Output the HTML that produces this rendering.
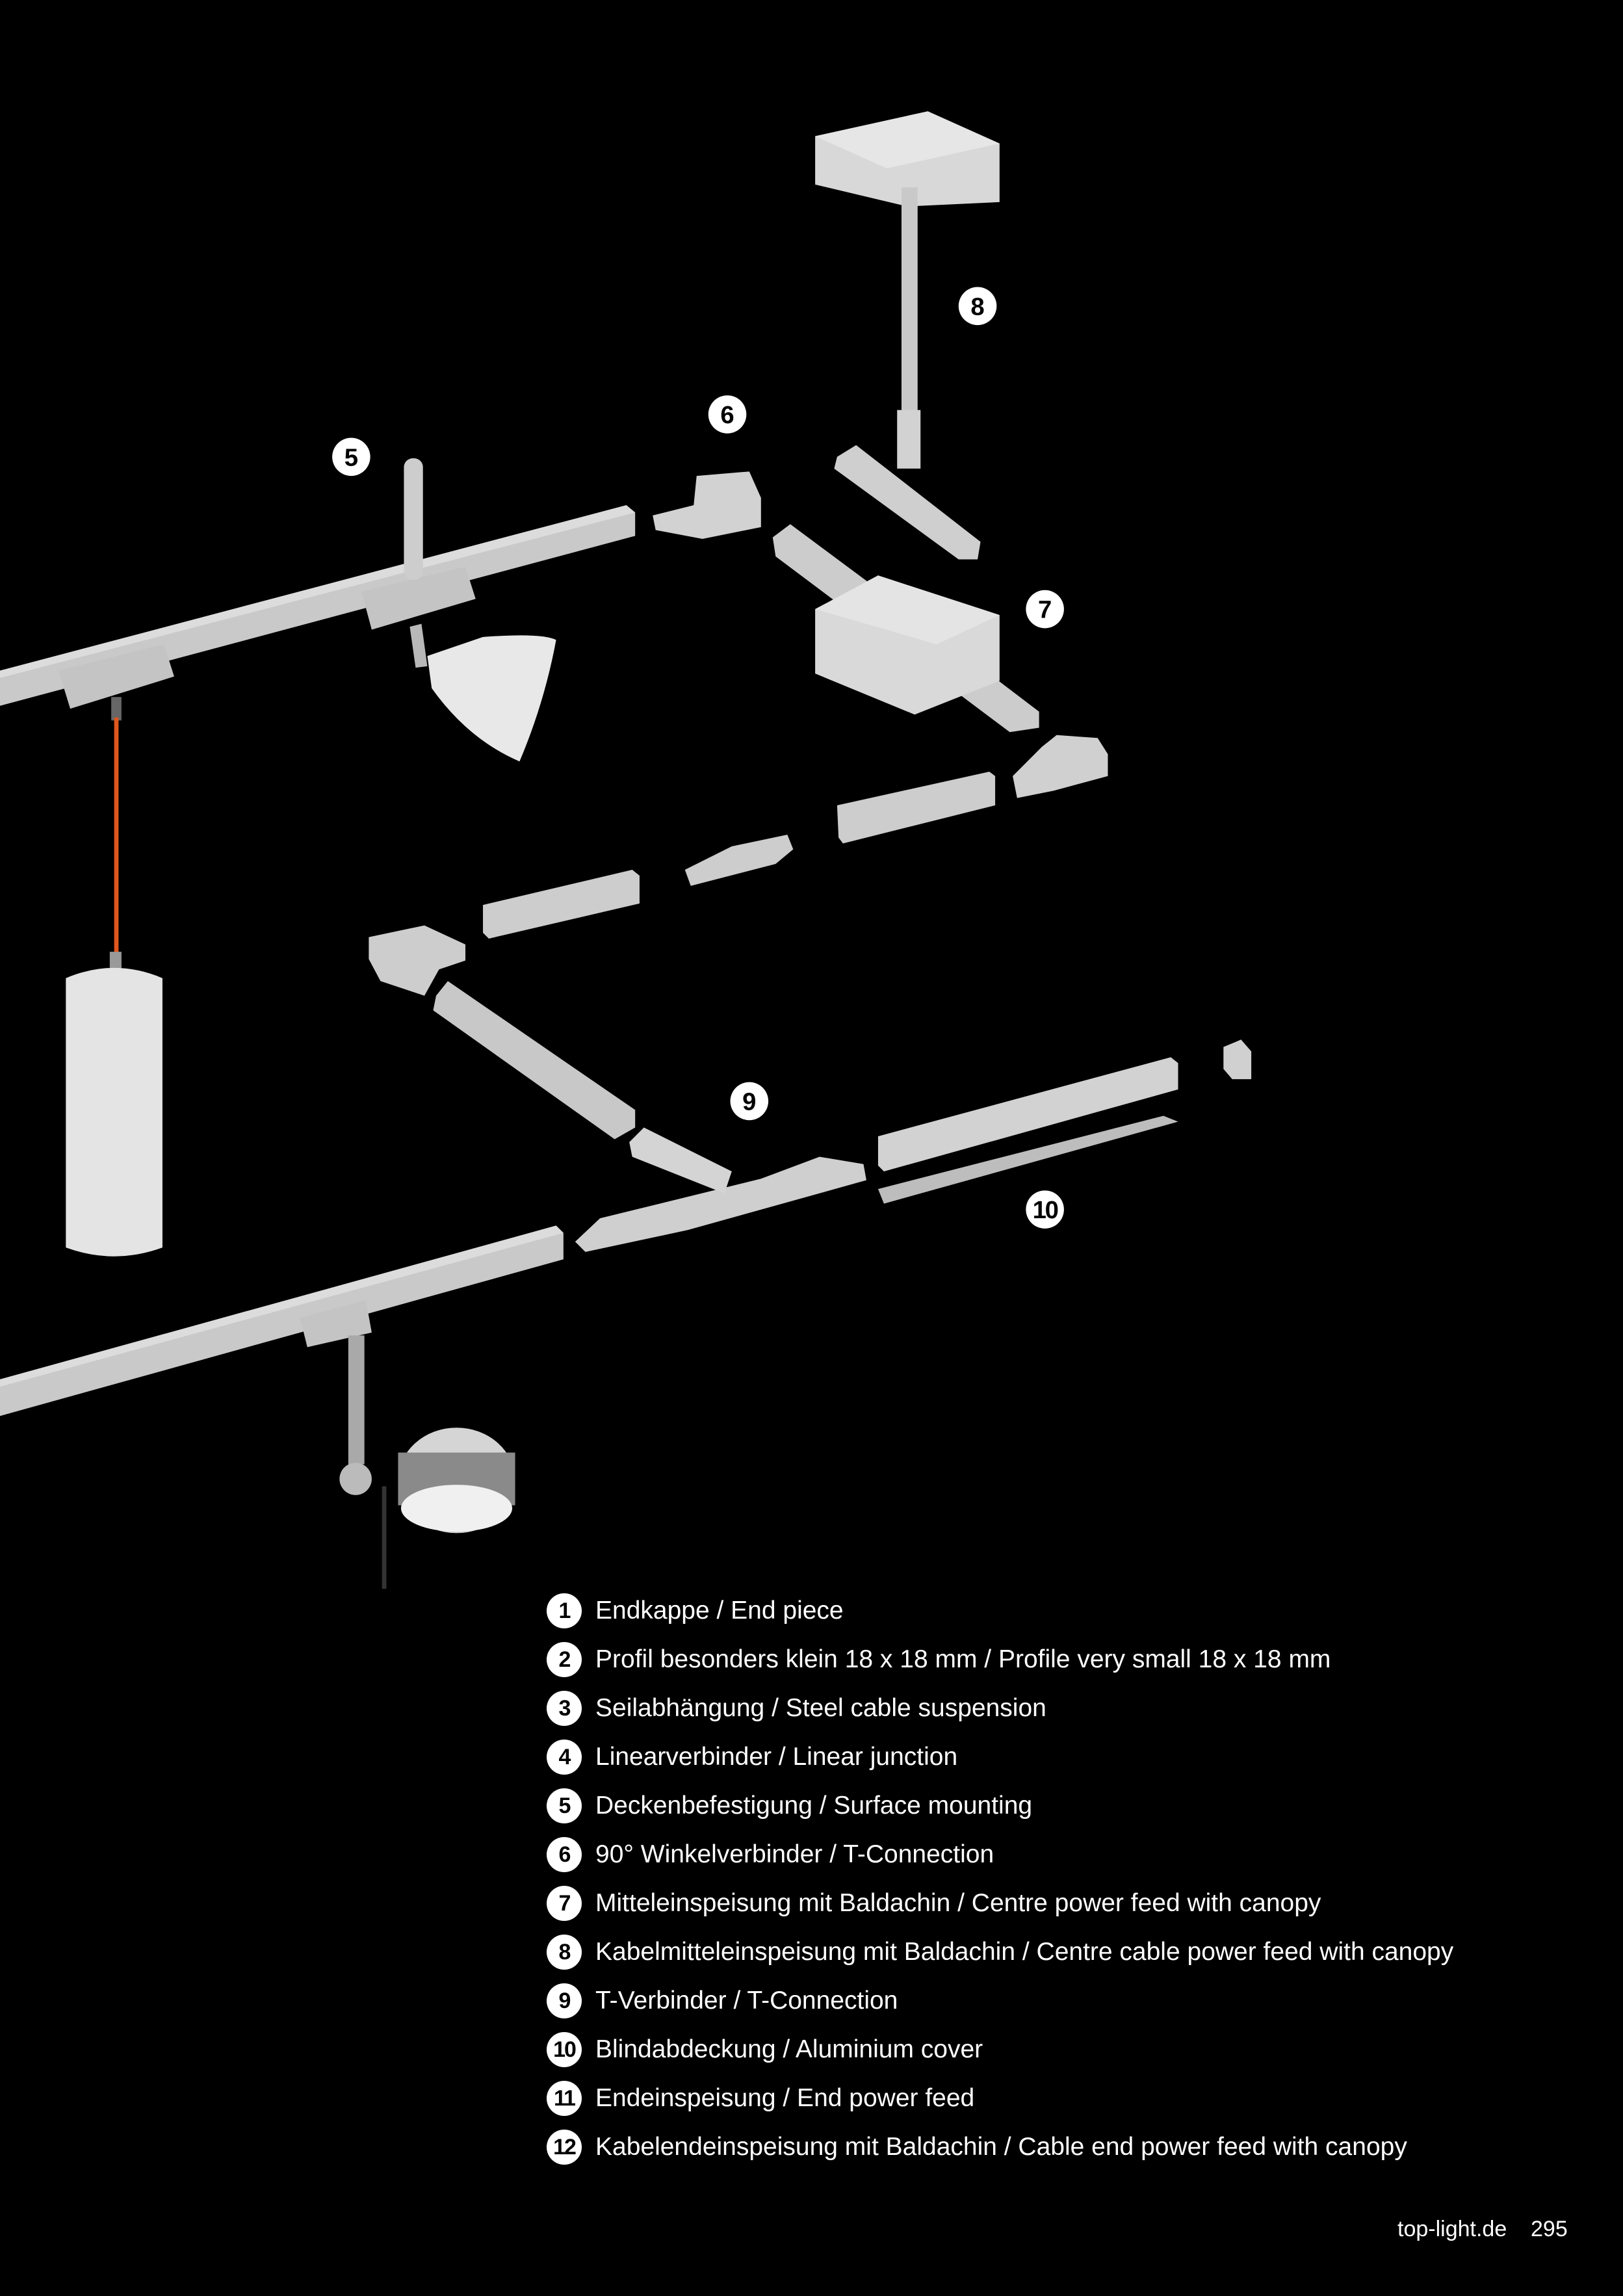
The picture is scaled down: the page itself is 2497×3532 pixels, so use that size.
<!DOCTYPE html>
<html><head><meta charset="utf-8"><style>
html,body{margin:0;padding:0;background:#000;}
body{width:2497px;height:3532px;position:relative;overflow:hidden;font-family:"Liberation Sans",sans-serif;color:#fff;}
svg.d{position:absolute;left:0;top:0;width:2497px;height:3532px;}
.row{position:absolute;left:841px;height:54px;display:flex;align-items:center;}
.c{width:54px;height:54px;border-radius:50%;background:#fff;color:#000;font-weight:bold;font-size:34px;display:flex;align-items:center;justify-content:center;letter-spacing:-2px;}
.t{margin-left:21px;font-size:39px;white-space:nowrap;}
.foot{position:absolute;top:3410px;font-size:34px;}
</style></head><body>
<svg class="d" viewBox="0 0 1109 1568" preserveAspectRatio="none">
<g fill="#cfcfcf" stroke="none">
<polygon points="557,93 634,76 683,98 683,138 620,141 557,126" fill="#d8d8d8"/>
<polygon points="557,93 634,76 683,98 606,115" fill="#e6e6e6"/>
<rect x="616" y="128" width="11" height="175" fill="#c9c9c9"/>
<rect x="613" y="280" width="16" height="40" fill="#d2d2d2"/>
<polygon points="572,312 585,304 670,370 668,382 655,382 570,320" fill="#cfcfcf"/>
<polygon points="0,458 428,345 434,350 434,366 0,482" fill="#c9c9c9"/>
<polygon points="0,458 428,345 434,350 0,463" fill="#dcdcdc"/>
<polygon points="40,458 112,440 119,462 48,484" fill="#c4c4c4"/>
<polygon points="247,404 318,387 325,409 254,430" fill="#c4c4c4"/>
<rect x="276" y="313" width="13" height="83" rx="6" fill="#cdcdcd"/>
<polygon points="280,428 288,426 292,455 284,456" fill="#b8b8b8"/>
<path d="M292,448 L330,435 Q370,432 380,437 Q372,480 355,520 Q320,505 295,470 Z" fill="#e8e8e8"/>
<rect x="76" y="476" width="7" height="16" fill="#666"/>
<rect x="78" y="490" width="3" height="162" fill="#e0561e"/>
<rect x="75" y="650" width="8" height="12" fill="#999"/>
<path d="M45,668 Q78,654 111,668 L111,852 Q78,864 45,852 Z" fill="#e4e4e4"/>
<polygon points="446,352 474,345 476,325 512,322 520,340 520,360 480,368 448,362" fill="#d2d2d2"/>
<polygon points="528,367 540,358 610,410 710,486 710,497 690,500 530,380" fill="#cccccc"/>
<polygon points="557,416 600,393 683,420 683,465 625,488 557,460" fill="#d9d9d9"/>
<polygon points="557,416 600,393 683,420 640,440" fill="#e4e4e4"/>
<polygon points="692,530 712,510 722,502 750,504 757,515 757,530 720,540 695,545" fill="#d0d0d0"/>
<polygon points="572,550 676,527 680,530 680,550 576,576 573,572" fill="#cdcdcd"/>
<polygon points="468,594 500,578 538,570 542,580 530,590 472,605" fill="#cdcdcd"/>
<polygon points="330,618 432,594 437,598 437,617 334,641 330,637" fill="#cdcdcd"/>
<polygon points="252,640 290,632 318,645 318,656 300,662 290,680 260,670 252,655" fill="#cdcdcd"/>
<polygon points="298,680 306,670 434,758 434,770 420,778 296,690" fill="#c8c8c8"/>
<polygon points="393,848 410,832 520,805 560,790 590,795 592,806 470,840 400,855" fill="#cfcfcf"/>
<polygon points="430,780 440,770 500,800 495,815 432,790" fill="#d4d4d4"/>
<polygon points="600,776 800,722 805,726 805,744 604,800 600,796" fill="#d2d2d2"/>
<polygon points="600,812 795,762 805,766 604,822" fill="#bdbdbd"/>
<polygon points="836,715 848,710 855,718 855,737 842,737 836,730" fill="#d0d0d0"/>
<polygon points="0,942 380,837 385,842 385,860 0,967" fill="#c9c9c9"/>
<polygon points="0,942 380,837 385,842 0,947" fill="#dcdcdc"/>
<polygon points="205,900 250,888 254,910 210,920" fill="#c4c4c4"/>
<rect x="238" y="912" width="11" height="88" fill="#a9a9a9"/>
<circle cx="243" cy="1010" r="11" fill="#bbb"/>
<rect x="261" y="1015" width="3" height="70" fill="#333"/>
<ellipse cx="312" cy="1011" rx="40" ry="36" fill="#d5d5d5"/>
<rect x="272" y="992" width="80" height="36" fill="#8a8a8a"/>
<ellipse cx="312" cy="1030" rx="38" ry="16" fill="#f0f0f0"/>
</g>
<g font-family="Liberation Sans, sans-serif" font-weight="bold" font-size="17" text-anchor="middle">
<circle cx="668" cy="209" r="13" fill="#fff"/><text x="668" y="215" fill="#000">8</text>
<circle cx="497" cy="283" r="13" fill="#fff"/><text x="497" y="289" fill="#000">6</text>
<circle cx="240" cy="312" r="13" fill="#fff"/><text x="240" y="318" fill="#000">5</text>
<circle cx="714" cy="416" r="13" fill="#fff"/><text x="714" y="422" fill="#000">7</text>
<circle cx="512" cy="752" r="13" fill="#fff"/><text x="512" y="758" fill="#000">9</text>
<circle cx="714" cy="826" r="13" fill="#fff"/><text x="714" y="832" fill="#000" letter-spacing="-1">10</text>
</g>
</svg>
<div class="row" style="top:2451px"><div class="c">1</div><div class="t">Endkappe / End piece</div></div>
<div class="row" style="top:2526px"><div class="c">2</div><div class="t">Profil besonders klein 18 x 18 mm / Profile very small 18 x 18 mm</div></div>
<div class="row" style="top:2601px"><div class="c">3</div><div class="t">Seilabhängung / Steel cable suspension</div></div>
<div class="row" style="top:2676px"><div class="c">4</div><div class="t">Linearverbinder / Linear junction</div></div>
<div class="row" style="top:2751px"><div class="c">5</div><div class="t">Deckenbefestigung / Surface mounting</div></div>
<div class="row" style="top:2826px"><div class="c">6</div><div class="t">90° Winkelverbinder / T-Connection</div></div>
<div class="row" style="top:2901px"><div class="c">7</div><div class="t">Mitteleinspeisung mit Baldachin / Centre power feed with canopy</div></div>
<div class="row" style="top:2976px"><div class="c">8</div><div class="t">Kabelmitteleinspeisung mit Baldachin / Centre cable power feed with canopy</div></div>
<div class="row" style="top:3051px"><div class="c">9</div><div class="t">T-Verbinder / T-Connection</div></div>
<div class="row" style="top:3126px"><div class="c">10</div><div class="t">Blindabdeckung / Aluminium cover</div></div>
<div class="row" style="top:3201px"><div class="c">11</div><div class="t">Endeinspeisung / End power feed</div></div>
<div class="row" style="top:3276px"><div class="c">12</div><div class="t">Kabelendeinspeisung mit Baldachin / Cable end power feed with canopy</div></div>
<div class="foot" style="left:2150px">top-light.de</div>
<div class="foot" style="left:2355px">295</div>
</body></html>
